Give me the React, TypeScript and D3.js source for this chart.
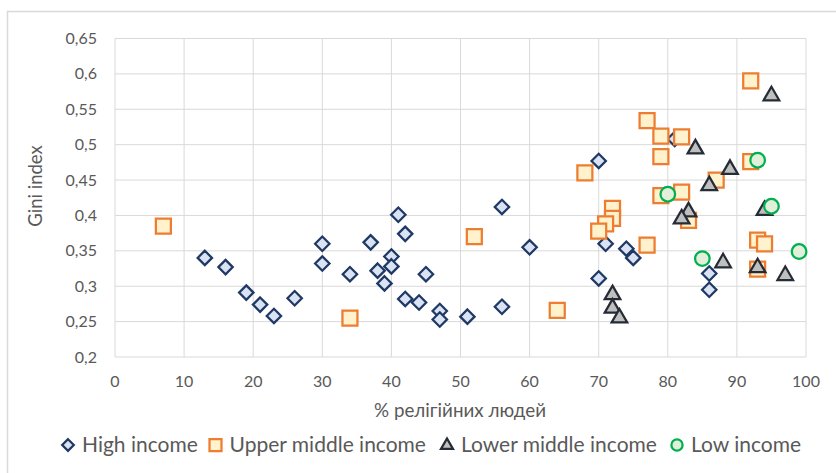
import React from "react";
import * as d3 from "d3";

const highIncome: [number, number][] = [
  [13, 0.34], [16, 0.327], [19, 0.291], [21, 0.274], [23, 0.258], [26, 0.283],
  [30, 0.36], [30, 0.332], [34, 0.317], [37, 0.362], [38, 0.322], [39, 0.304],
  [40, 0.342], [40, 0.328], [41, 0.401], [42, 0.374], [42, 0.282], [44, 0.277],
  [45, 0.317], [47, 0.265], [47, 0.253], [51, 0.257], [56, 0.412], [56, 0.271],
  [60, 0.355], [70, 0.477], [70, 0.311], [71, 0.36], [74, 0.353], [75, 0.34],
  [81, 0.508], [86, 0.318], [86, 0.295],
];
const upperMiddleIncome: [number, number][] = [
  [7, 0.385], [34, 0.255], [52, 0.37], [64, 0.266], [92, 0.59], [77, 0.534],
  [79, 0.512], [82, 0.511], [79, 0.483], [68, 0.46], [92, 0.476], [87, 0.45],
  [79, 0.428], [82, 0.433], [83, 0.393], [72, 0.41], [72, 0.396], [71, 0.388],
  [70, 0.378], [77, 0.358], [93, 0.365], [94, 0.36], [93, 0.324],
];
const lowerMiddleIncome: [number, number][] = [
  [95, 0.57], [84, 0.495], [89, 0.466], [86, 0.443], [83, 0.406], [82, 0.396],
  [94, 0.408], [88, 0.334], [93, 0.327], [97, 0.316], [72, 0.289], [72, 0.27],
  [73, 0.256],
];
const lowIncome: [number, number][] = [
  [93, 0.478], [80, 0.43], [95, 0.413], [85, 0.339], [99, 0.349],
];

const xTicks = [0, 10, 20, 30, 40, 50, 60, 70, 80, 90, 100];
const yTicks = [0.2, 0.25, 0.3, 0.35, 0.4, 0.45, 0.5, 0.55, 0.6, 0.65];
const seriesNames = ["High income", "Upper middle income", "Lower middle income", "Low income"];

const W = 836, H = 473;
const FONT = "Lato, 'Open Sans', sans-serif";

const x = d3.scaleLinear().domain([0, 100]).range([115, 806]);
const y = d3.scaleLinear().domain([0.2, 0.65]).range([357, 38.5]);

const styles = [
  { stroke: "#1f3864", fill: "#dae3f3" },
  { stroke: "#ed7d31", fill: "#fff2cc" },
  { stroke: "#262c36", fill: "#bfbfbf" },
  { stroke: "#00b050", fill: "#e2efda" },
];

function markerPath(i: number, big: boolean) {
  if (i === 0) {
    const r = big ? 7.2 : 5.8;
    return `M0,${-r}L${r},0L0,${r}L${-r},0Z`;
  }
  if (i === 1) {
    const h = big ? 7.5 : 6;
    return `M${-h},${-h}H${h}V${h}H${-h}Z`;
  }
  if (i === 2) {
    const w = big ? 7.8 : 6;
    const hh = big ? 13.5 : 10.5;
    return `M0,${-hh * 0.62}L${w},${hh * 0.38}L${-w},${hh * 0.38}Z`;
  }
  const r = big ? 7.3 : 5.6;
  return d3.arc()({ innerRadius: 0, outerRadius: r, startAngle: 0, endAngle: 2 * Math.PI }) || "";
}

const fmt = (v: number) => String(+v.toFixed(2)).replace(".", ",");

export default function App() {
  const series = [highIncome, upperMiddleIncome, lowerMiddleIncome, lowIncome];
  const legendX = [68, 215.5, 447, 677];
  return (
    <svg width={W} height={H} style={{ position: "absolute", left: 0, top: 0, background: "#fff" }} fontFamily={FONT}>
      <rect x={7.5} y={11.5} width={840} height={470} fill="#fff" stroke="#d9d9d9" strokeWidth={1.5} />
      {yTicks.map((t) => (
        <line key={"gy" + t} x1={x(0)} x2={x(100)} y1={y(t)} y2={y(t)} stroke="#d9d9d9" strokeWidth={1} />
      ))}
      {xTicks.map((t) => (
        <line key={"gx" + t} x1={x(t)} x2={x(t)} y1={y(0.2)} y2={y(0.65)} stroke="#d9d9d9" strokeWidth={1} />
      ))}
      {yTicks.map((t) => (
        <text key={"ty" + t} x={97} y={y(t)} dy="0.35em" textAnchor="end" fontSize={16} fill="#595959">
          {fmt(t)}
        </text>
      ))}
      {xTicks.map((t) => (
        <text key={"tx" + t} x={x(t)} y={381} dy="0.35em" textAnchor="middle" fontSize={16} fill="#595959">
          {t}
        </text>
      ))}
      <text x={460} y={410} dy="0.35em" textAnchor="middle" fontSize={18.8} fill="#595959">
        % релігійних людей
      </text>
      <text transform={`translate(42,186) rotate(-90)`} textAnchor="middle" fontSize={18.5} fill="#595959">
        Gini index
      </text>
      {series.map((data, i) => (
        <g key={"s" + i}>
          {data.map((d, j) => (
            <path
              key={j}
              d={markerPath(i, true)}
              transform={`translate(${x(d[0])},${y(d[1])})`}
              fill={styles[i].fill}
              stroke={styles[i].stroke}
              strokeWidth={2.25}
            />
          ))}
        </g>
      ))}
      {seriesNames.map((name, i) => (
        <g key={"l" + i} transform={`translate(${legendX[i]},445)`}>
          <path d={markerPath(i, false)} fill={styles[i].fill} stroke={styles[i].stroke} strokeWidth={2.25} />
          <text x={14} dy="0.35em" fontSize={21} fill="#595959">
            {name}
          </text>
        </g>
      ))}
    </svg>
  );
}
